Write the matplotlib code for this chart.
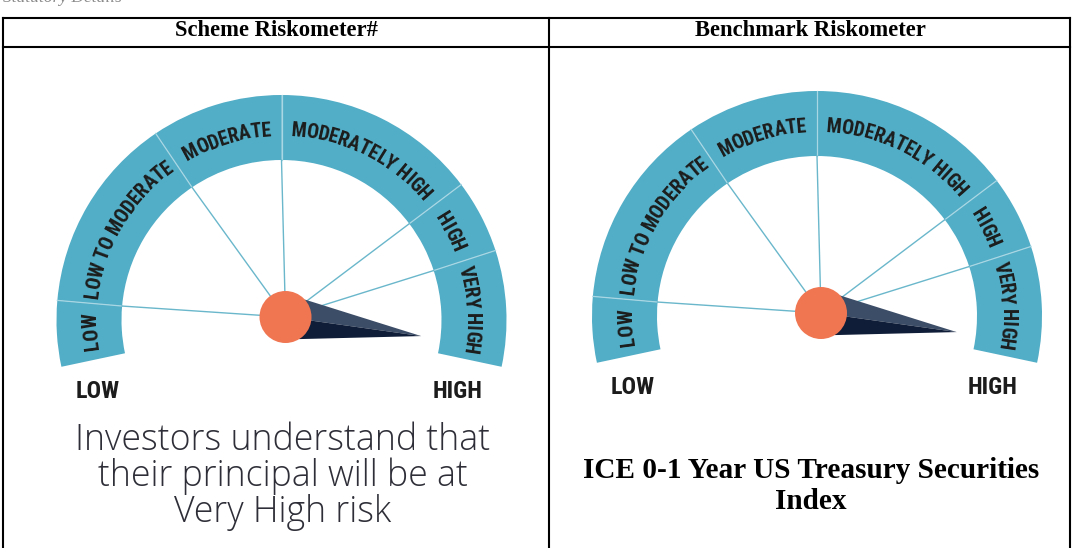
import numpy as np
import matplotlib
matplotlib.use("Agg")
import matplotlib.pyplot as plt
from matplotlib.patches import Wedge, Circle, Polygon
from matplotlib.textpath import TextToPath
from matplotlib.font_manager import FontProperties

W_PX, H_PX, DPI = 1073, 548, 100

# ---------------- data ----------------
top_note = "Statutory Details"
headers = ["Scheme Riskometer#", "Benchmark Riskometer"]
risk_levels = ["LOW", "LOW TO MODERATE", "MODERATE", "MODERATELY HIGH", "HIGH", "VERY HIGH"]
segment_edges_deg = [192, 175, 124, 90, 37, 18, -12]
needle_angle_deg = [-8, -8]
scale_ends = ["LOW", "HIGH"]
scheme_caption = ["Investors understand that", "their principal will be at", "Very High risk"]
benchmark_caption = ["ICE 0-1 Year US Treasury Securities", "Index"]

# ---------------- style / layout ----------------
TEAL = "#52adc6"
BAND_DIV = "#a9d7e4"
HUB_LINE = "#6ab7cb"
HUB = "#f07652"
NEEDLE_UP = "#3c4d67"
NEEDLE_LO = "#0f1d38"
INK = "#1c1c1c"

gauge_centers = [(281.5, 320.0), (817.0, 316.0)]
R_OUT, R_IN = 225.0, 160.0
R_LABEL = 190.0
HUB_OFF = (4.0, -3.0)
HUB_R = 26.0

fig = plt.figure(figsize=(W_PX / DPI, H_PX / DPI), dpi=DPI)
ax = fig.add_axes([0, 0, 1, 1])
ax.set_xlim(0, W_PX)
ax.set_ylim(H_PX, 0)
ax.axis("off")

ttp = TextToPath()


def text_w(s, fp):
    w, h, d = ttp.get_text_width_height_descent(s, fp, ismath=False)
    return w * DPI / 72.0


def fit_size(fp, s, target_px):
    f = fp.copy()
    f.set_size(12)
    return 12 * target_px / text_w(s, f)


def pt(cx, cy, r, deg):
    t = np.radians(deg)
    return cx + r * np.cos(t), cy - r * np.sin(t)


cond = ["Roboto Condensed", "Roboto", "DejaVu Sans"]
arc_fp = FontProperties(family=cond, weight="bold")
arc_fp.set_size(fit_size(arc_fp, "MODERATE", 91))
end_fp = FontProperties(family=cond, weight="bold")
end_fp.set_size(fit_size(end_fp, "HIGH", 50))


def curved_text(cx, cy, r, theta_c, s, fp):
    total = text_w(s, fp)
    for i, ch in enumerate(s):
        if ch == " ":
            continue
        wc = text_w(ch, fp)
        xc = text_w(s[: i + 1], fp) - wc / 2.0
        off = total / 2.0 - xc
        th = np.radians(theta_c) + off / r
        x, y = cx + r * np.cos(th), cy - r * np.sin(th)
        ax.text(x, y, ch, fontproperties=fp, rotation=np.degrees(th) - 90,
                ha="center", va="center", rotation_mode="anchor", color=INK)


def draw_gauge(cx, cy, needle_deg):
    edges = segment_edges_deg
    for a, b in zip(edges[:-1], edges[1:]):
        ax.add_patch(Wedge((cx, cy), R_OUT, -a, -b, width=R_OUT - R_IN,
                           facecolor=TEAL, edgecolor="none", zorder=1))
    hx, hy = cx + HUB_OFF[0], cy + HUB_OFF[1]
    for e in edges[1:-1]:
        x1, y1 = pt(cx, cy, R_IN, e)
        x2, y2 = pt(cx, cy, R_OUT, e)
        ax.plot([x1, x2], [y1, y2], color=BAND_DIV, lw=0.9, zorder=2)
        ax.plot([hx, x1], [hy, y1], color=HUB_LINE, lw=1.0, zorder=2)
    for name, a, b in zip(risk_levels, edges[:-1], edges[1:]):
        curved_text(cx, cy, R_LABEL, (a + b) / 2.0, name, arc_fp)
    # needle
    t = np.radians(needle_deg)
    d = np.array([np.cos(t), -np.sin(t)])
    n = np.array([np.sin(t), np.cos(t)])  # perpendicular pointing screen-down
    hub = np.array([hx, hy])
    tip = hub + 137 * d
    upper = hub + 16.5 * d - 20 * n
    lower = hub + 16.5 * d + 20 * n
    ax.add_patch(Polygon([upper, tip, hub], closed=True, facecolor=NEEDLE_UP, edgecolor="none", zorder=3))
    ax.add_patch(Polygon([hub, tip, lower], closed=True, facecolor=NEEDLE_LO, edgecolor="none", zorder=3))
    ax.add_patch(Circle((hx, hy), HUB_R, facecolor=HUB, edgecolor="none", zorder=4))
    ax.text(cx - 184, cy + 71, scale_ends[0], fontproperties=end_fp, ha="center", va="center", color=INK)
    ax.text(cx + 176, cy + 71, scale_ends[1], fontproperties=end_fp, ha="center", va="center", color=INK)


for (cx, cy), nd in zip(gauge_centers, needle_angle_deg):
    draw_gauge(cx, cy, nd)

# ---------------- table ----------------
LX, MX, RX = 3.0, 549.0, 1070.0
TY, HY = 18.0, 47.0
lw = 1.5
ax.plot([LX, RX], [TY, TY], color="black", lw=lw, zorder=5)
ax.plot([LX, RX], [HY, HY], color="black", lw=lw, zorder=5)
for x in (LX, MX, RX):
    ax.plot([x, x], [TY, H_PX + 5], color="black", lw=lw, zorder=5)

serif_b = FontProperties(family=["Liberation Serif", "DejaVu Serif"], weight="bold")
hdr_fp = serif_b.copy()
hdr_fp.set_size(fit_size(hdr_fp, headers[1], 231))
ax.text(276, 36, headers[0], fontproperties=hdr_fp, ha="center", va="baseline", color="black")
ax.text(810, 36, headers[1], fontproperties=hdr_fp, ha="center", va="baseline", color="black")

note_fp = FontProperties(family=["Liberation Serif", "DejaVu Serif"], style="italic", size=12.5)
ax.text(3, 1.5, top_note, fontproperties=note_fp, ha="left", va="baseline", color="#8a8a8a")

# captions
cap_fp = FontProperties(family=["Open Sans", "DejaVu Sans"], weight="light")
cap_fp.set_size(fit_size(cap_fp, scheme_caption[0], 414))
for i, line in enumerate(scheme_caption):
    ax.text(283, 450 + i * 36, line, fontproperties=cap_fp, ha="center", va="baseline", color="#2e2e38")

bm_fp = serif_b.copy()
bm_fp.set_size(fit_size(bm_fp, benchmark_caption[0], 455))
for i, line in enumerate(benchmark_caption):
    ax.text(811, 478.5 + i * 30.5, line, fontproperties=bm_fp, ha="center", va="baseline", color="black")

fig.savefig("out.png", dpi=DPI)
